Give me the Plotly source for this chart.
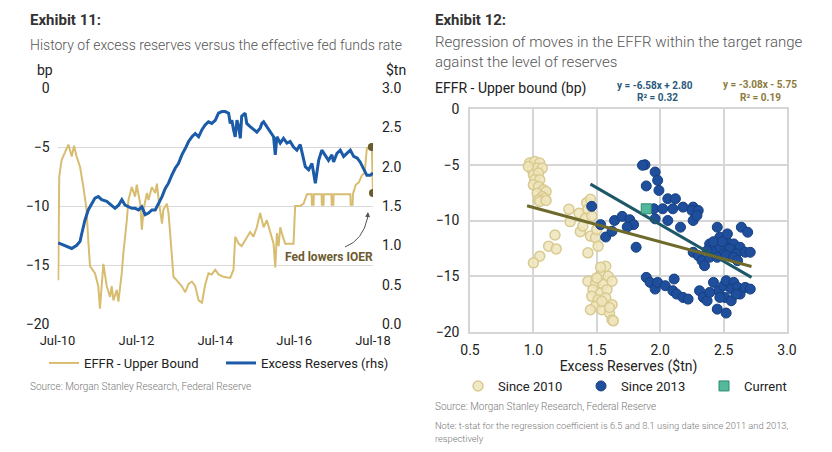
import plotly.graph_objects as go

# ---------------- Exhibit 11 data ----------------
effr_dates = ["2010-07-08","2010-07-17","2010-08-08","2010-09-09","2010-10-10","2010-11-10","2010-12-01","2010-12-25",
 "2011-01-26","2011-02-26","2011-03-27","2011-04-12","2011-04-28","2011-06-13","2011-07-14","2011-07-29","2011-08-14",
 "2011-08-30","2011-09-30","2011-10-31","2011-11-15","2011-12-01","2012-01-01","2012-01-16","2012-02-16","2012-03-02",
 "2012-04-03","2012-04-18","2012-05-19","2012-06-19","2012-07-04","2012-08-05","2012-08-20","2012-09-05","2012-10-06",
 "2012-10-21","2012-11-21","2012-12-22","2013-01-07","2013-01-23","2013-02-23","2013-03-08","2013-04-09","2013-04-24",
 "2013-05-09","2013-05-24","2013-06-09","2013-07-10","2013-08-26","2013-09-26","2013-10-27","2013-11-27","2013-12-28",
 "2014-01-28","2014-02-28","2014-03-29","2014-04-29","2014-05-30","2014-07-01","2014-07-31","2014-09-15","2014-11-17",
 "2014-12-17","2015-01-02","2015-02-03","2015-03-03","2015-04-19","2015-05-20","2015-06-20","2015-07-21","2015-08-21",
 "2015-09-22","2015-10-22","2015-11-22","2015-12-23","2016-01-08","2016-01-23","2016-02-08","2016-02-23","2016-03-18",
 "2016-04-09","2016-06-25","2016-07-10","2016-08-26","2016-09-26","2016-10-27",
 "2016-12-10","2016-12-12","2016-12-28","2016-12-30",
 "2017-03-12","2017-03-14","2017-03-30","2017-04-01",
 "2017-06-11","2017-06-13","2017-06-29","2017-07-01",
 "2017-12-03","2017-12-06","2017-12-24","2017-12-27",
 "2018-01-22","2018-02-20","2018-03-20","2018-04-15","2018-05-05","2018-06-13","2018-06-20","2018-07-01"]
effr_vals = [-16.3,-7.5,-6.1,-5.5,-4.8,-5.8,-4.9,-5.8,
 -6.7,-8.4,-10.3,-12.9,-15.1,-15.7,-16.8,-18.7,-16.3,
 -14.9,-16.8,-17.7,-16.8,-18.0,-17.1,-18.1,-15.7,-14.0,
 -11.2,-9.5,-8.4,-9.2,-8.2,-9.8,-12.0,-10.3,-8.9,
 -9.5,-8.4,-8.9,-8.1,-9.5,-11.5,-10.3,-9.8,-10.6,
 -12.3,-14.6,-16.0,-16.3,-16.8,-17.3,-16.6,-16.4,-16.8,
 -18.0,-18.2,-16.7,-15.7,-15.8,-15.4,-15.8,-16.0,-16.1,
 -15.4,-12.6,-13.2,-13.4,-12.6,-12.2,-12.6,-11.8,-10.6,
 -11.8,-11.2,-12.3,-13.2,-15.2,-12.3,-13.4,-11.8,-12.6,
 -13.2,-13.2,-10.0,-10.0,-9.8,-9.0,
 -9.0,-9.9,-9.9,-9.0,
 -9.0,-9.9,-9.9,-9.0,
 -9.0,-9.9,-9.9,-9.0,
 -9.0,-9.9,-9.9,-9.0,
 -8.2,-8.0,-7.4,-7.2,-5.1,-5.0,-5.0,-8.9]

res_dates = ["2010-07-08","2010-08-24","2010-09-24","2010-11-10","2010-12-26","2011-01-26","2011-02-11","2011-03-12",
 "2011-04-12","2011-05-13","2011-06-13","2011-07-14","2011-08-14","2011-09-30","2011-11-15","2011-12-16","2012-01-17",
 "2012-02-17","2012-03-18","2012-04-18","2012-05-19","2012-06-19","2012-07-20","2012-08-20","2012-09-20","2012-10-21",
 "2012-11-21","2012-12-22","2013-01-23","2013-02-23","2013-03-24","2013-04-24","2013-05-24","2013-06-25","2013-07-25",
 "2013-08-26","2013-09-26","2013-10-27","2013-11-27","2013-12-28","2014-01-28","2014-02-28","2014-03-29","2014-04-29",
 "2014-05-30","2014-07-01","2014-07-31","2014-09-01","2014-10-01","2014-11-02","2014-11-17","2014-12-02","2014-12-17",
 "2015-01-02","2015-01-18","2015-02-03","2015-02-18","2015-03-03","2015-04-04","2015-04-19","2015-05-20","2015-06-20",
 "2015-07-21","2015-08-21","2015-09-06","2015-09-22","2015-10-22","2015-11-22","2015-12-23","2016-01-08","2016-01-23",
 "2016-02-23","2016-03-24","2016-04-25","2016-05-25","2016-06-25","2016-07-26","2016-08-26","2016-09-11","2016-10-12",
 "2016-11-12","2016-12-13","2017-01-13","2017-02-13","2017-03-14","2017-04-14","2017-05-15","2017-06-15","2017-07-01",
 "2017-08-01","2017-09-01","2017-10-02","2017-11-02","2017-12-03","2018-01-03","2018-02-04","2018-03-04","2018-04-05",
 "2018-05-05","2018-06-06","2018-07-01"]
res_vals = [1.03,1.00,0.98,0.96,1.00,1.05,1.15,1.32,
 1.45,1.53,1.60,1.62,1.58,1.56,1.51,1.47,1.51,
 1.58,1.51,1.49,1.47,1.47,1.45,1.49,1.39,1.41,
 1.45,1.45,1.53,1.62,1.72,1.79,1.89,1.98,2.04,
 2.15,2.23,2.32,2.38,2.42,2.38,2.47,2.53,2.57,
 2.55,2.59,2.68,2.70,2.70,2.68,2.55,2.59,2.47,
 2.38,2.59,2.51,2.36,2.64,2.68,2.55,2.51,2.47,
 2.44,2.49,2.55,2.57,2.51,2.44,2.38,2.15,2.38,
 2.30,2.36,2.30,2.32,2.25,2.21,2.28,2.17,2.00,
 1.96,2.04,1.79,2.08,2.21,2.15,2.08,2.15,2.06,
 2.17,2.21,2.13,2.17,2.21,2.13,2.11,2.06,1.96,
 1.89,1.89,1.92]

ioer_dates = ["2018-06-20", "2018-07-01"]
ioer_vals = [-5.0, -8.9]

# ---------------- Exhibit 12 data ----------------
s2010_x = [0.97,1.01,1.05,0.99,1.03,1.07,0.96,1.00,1.04,1.01,1.05,1.00,1.04,1.08,1.10,1.03,1.07,1.09,1.04,1.05,1.10,
 1.17,1.12,1.18,1.05,1.00,1.29,1.36,1.37,1.41,1.42,1.45,1.43,1.46,1.45,1.49,1.43,1.50,1.51,1.39,1.28,
 1.57,1.53,1.59,1.43,1.49,1.55,1.47,1.53,1.58,1.46,1.51,1.57,1.62,1.49,1.54,1.45,1.60,1.62,1.54,1.50,1.62,1.53,1.60,1.63]
s2010_y = [-4.85,-4.7,-4.85,-5.45,-5.3,-5.3,-5.15,-5.9,-5.75,-6.35,-6.35,-6.8,-6.95,-7.25,-7.4,-7.55,-7.85,-8.0,-8.15,-8.3,-8.2,
 -11.3,-12.3,-12.55,-13.2,-13.8,-10.1,-9.35,-11.0,-9.8,-8.4,-8.1,-9.0,-9.6,-11.4,-11.55,-12.9,-10.8,-12.3,-10.5,-9.0,
 -14.1,-14.85,-15.0,-15.45,-15.6,-15.75,-16.2,-16.5,-16.2,-16.8,-17.1,-16.95,-17.55,-17.7,-18.0,-18.0,-18.3,-18.9,-17.25,-15.15,-15.45,-14.2,-17.8,-19.0]

s2013_x = [1.46,1.53,1.57,1.64,1.70,1.76,1.79,1.74,1.62,1.81,1.88,1.86,1.89,1.96,1.98,1.99,2.06,2.12,2.18,2.26,
 1.95,2.02,2.10,2.25,2.30,2.06,1.96,2.16,2.26,2.29,
 2.45,2.64,2.69,2.47,2.52,2.58,2.39,2.42,2.37,2.47,2.55,2.63,2.67,2.60,2.50,2.26,2.30,2.33,2.35,2.39,2.45,2.52,2.58,2.61,2.71,2.42,2.49,2.53,
 1.89,1.92,1.96,1.98,2.04,2.10,2.13,2.18,2.22,2.11,2.31,2.34,2.37,2.42,2.46,2.50,2.52,2.58,2.56,2.61,2.63,2.67,2.71,2.51,2.56,2.45,2.52,2.60,2.39,2.47]
s2013_y = [-8.73,-10.37,-11.48,-10.0,-9.63,-9.93,-10.37,-10.58,-10.97,-12.4,-5.0,-5.05,-6.9,-5.65,-6.4,-7.3,-8.05,-8.05,-8.8,-8.8,
 -8.95,-8.95,-8.95,-9.1,-9.1,-10.0,-9.85,-10.6,-10.0,-9.55,
 -10.6,-10.6,-11.05,-11.5,-11.8,-12.1,-12.1,-12.55,-12.7,-12.4,-12.55,-12.4,-12.85,-13.0,-13.0,-12.85,-13.15,-13.6,-14.05,-13.3,-13.3,-13.15,-13.3,-13.6,-12.85,-11.9,-11.9,-11.2,
 -15.1,-15.55,-16.15,-15.55,-15.85,-16.3,-16.6,-16.9,-17.05,-15.25,-16.3,-16.9,-17.2,-15.55,-16.3,-15.85,-15.4,-15.55,-16.15,-16.0,-16.6,-16.0,-16.15,-16.9,-17.2,-17.95,-18.3,-16.6,-16.45,-16.9]

current_x = [1.89]
current_y = [-8.95]

fit_names = ["Since 2013 fit", "Since 2010 fit"]
fit_slope = [-6.58, -3.08]
fit_intercept = [2.80, -5.75]
fit_xrange = [[1.45, 2.72], [0.95, 2.72]]
fit_colors = ["#1d5868", "#6e6a2c"]

W, H = 832, 452
OFF = 8  # page body margin
def px(x): return (x - OFF) / W
def py(y): return 1 - (y - OFF) / H

FONT = "Roboto, sans-serif"
GOLD = "#d8bd70"
BLUE = "#1b5ba8"

fig = go.Figure()

fig.add_trace(go.Scatter(x=effr_dates, y=effr_vals, mode="lines", name="EFFR - Upper Bound",
                         line=dict(color=GOLD, width=2), xaxis="x", yaxis="y", legend="legend"))
fig.add_trace(go.Scatter(x=res_dates, y=res_vals, mode="lines", name="Excess Reserves (rhs)",
                         line=dict(color=BLUE, width=3), xaxis="x", yaxis="y2", legend="legend"))
fig.add_trace(go.Scatter(x=ioer_dates, y=ioer_vals, mode="markers", showlegend=False,
                         marker=dict(color="#6b5a2e", size=8), xaxis="x", yaxis="y"))

fig.add_trace(go.Scatter(x=s2010_x, y=s2010_y, mode="markers", name="Since 2010",
                         marker=dict(color="rgba(238,229,188,0.85)", size=10, line=dict(color="#d9ca90", width=1.5)),
                         xaxis="x3", yaxis="y3", legend="legend2"))
fig.add_trace(go.Scatter(x=s2013_x, y=s2013_y, mode="markers", name="Since 2013",
                         marker=dict(color="#1f4f9c", size=10, line=dict(color="#173f80", width=1)),
                         xaxis="x3", yaxis="y3", legend="legend2"))
for i in range(len(fit_names)):
    xs = fit_xrange[i]
    ys = [fit_slope[i] * v + fit_intercept[i] for v in xs]
    fig.add_trace(go.Scatter(x=xs, y=ys, mode="lines", showlegend=False, name=fit_names[i],
                             line=dict(color=fit_colors[i], width=3), xaxis="x3", yaxis="y3"))
fig.add_trace(go.Scatter(x=current_x, y=current_y, mode="markers", name="Current",
                         marker=dict(color="#52b99a", size=10, symbol="square", line=dict(color="#2f8a70", width=1)),
                         xaxis="x3", yaxis="y3", legend="legend2"))

tickfont = dict(family=FONT, size=14, color="#222")
fig.update_layout(
    width=W, height=H, margin=dict(l=0, r=0, t=0, b=0, autoexpand=False),
    paper_bgcolor="white", plot_bgcolor="white",
    font=dict(family=FONT, size=13, color="#222"),
    xaxis=dict(domain=[px(57.5), px(373)], type="date", range=["2010-07-01", "2018-07-01"],
               tickvals=["2010-07-01", "2012-07-01", "2014-07-01", "2016-07-01", "2018-07-01"],
               tickformat="%b-%y", showgrid=False, zeroline=False, showline=False, ticks="",
               tickfont=dict(family=FONT, size=13, color="#222"), ticklabelstandoff=7, anchor="y"),
    yaxis=dict(domain=[py(324), py(88)], range=[-20, 0], tickvals=[0, -5, -10, -15, -20],
               showgrid=True, gridcolor="#d9d9d9", gridwidth=1, zeroline=False, ticks="",
               tickfont=tickfont, ticklabelstandoff=7, anchor="x"),
    yaxis2=dict(domain=[py(324), py(88)], range=[0, 3], dtick=0.5, tickformat=".1f", overlaying="y",
                side="right", showgrid=False, zeroline=False, ticks="", tickfont=tickfont,
                ticklabelstandoff=8, anchor="x"),
    xaxis3=dict(domain=[px(470), px(787)], range=[0.5, 3.0], dtick=0.5, tickformat=".1f",
                showgrid=True, gridcolor="#d6d6d6", gridwidth=1.5, zeroline=False, ticks="",
                showline=True, linecolor="#d6d6d6", linewidth=1.5, mirror=True,
                tickfont=tickfont, ticklabelstandoff=4, anchor="y3",
                title=dict(text="Excess Reserves ($tn)", font=dict(family=FONT, size=14, color="#222"), standoff=0)),
    yaxis3=dict(domain=[py(332), py(109)], range=[-20, 0], dtick=5,
                showgrid=True, gridcolor="#d6d6d6", gridwidth=1.5, zeroline=False, ticks="",
                showline=True, linecolor="#d6d6d6", linewidth=1.5, mirror=True,
                tickfont=tickfont, ticklabelstandoff=6, anchor="x3"),
    legend=dict(orientation="h", x=px(44), y=py(363), xanchor="left", yanchor="middle",
                font=dict(family=FONT, size=13, color="#222"), entrywidth=132, entrywidthmode="pixels",
                bgcolor="rgba(0,0,0,0)", borderwidth=0),
    legend2=dict(orientation="h", x=px(458), y=py(386), xanchor="left", yanchor="middle",
                 font=dict(family=FONT, size=13, color="#222"), entrywidth=78, entrywidthmode="pixels",
                 bgcolor="rgba(0,0,0,0)", borderwidth=0, itemwidth=30),
)

ann = [
    dict(text="<b>Exhibit 11:</b>", x=px(28), y=py(20), font=dict(family="Roboto", size=15, color="#333")),
    dict(text="History of excess reserves versus the effective fed funds rate", x=px(28), y=py(45),
         font=dict(family="Roboto", size=14, color="#555", weight=300)),
    dict(text="bp", x=px(35), y=py(70), font=dict(family=FONT, size=14, color="#222")),
    dict(text="$tn", x=px(384), y=py(70), font=dict(family=FONT, size=14, color="#222")),
    dict(text="Source: Morgan Stanley Research, Federal Reserve", x=px(28), y=py(386),
         font=dict(family="Roboto", size=10, color="#777", weight=300)),
    dict(text="<b>Fed lowers IOER</b>", x=px(283), y=py(257), font=dict(family=FONT, size=12, color="#6b5a2e")),
    dict(text="<b>Exhibit 12:</b>", x=px(433), y=py(20), font=dict(family="Roboto", size=15, color="#333")),
    dict(text="Regression of moves in the EFFR within the target range", x=px(433), y=py(42),
         font=dict(family="Roboto", size=15, color="#555", weight=300)),
    dict(text="against the level of reserves", x=px(433), y=py(62),
         font=dict(family="Roboto", size=15, color="#555", weight=300)),
    dict(text="EFFR - Upper bound (bp)", x=px(433), y=py(88), font=dict(family=FONT, size=14, color="#222")),
    dict(text="<b>y = -6.58x + 2.80</b>", x=px(655), y=py(85), xanchor="center",
         font=dict(family=FONT, size=10, color="#2a5a78")),
    dict(text="<b>R² = 0.32</b>", x=px(657), y=py(98), xanchor="center",
         font=dict(family=FONT, size=10, color="#2a5a78")),
    dict(text="<b>y = -3.08x - 5.75</b>", x=px(760), y=py(84), xanchor="center",
         font=dict(family=FONT, size=10, color="#8c7a3c")),
    dict(text="<b>R² = 0.19</b>", x=px(760), y=py(98), xanchor="center",
         font=dict(family=FONT, size=10, color="#8c7a3c")),
    dict(text="Source: Morgan Stanley Research, Federal Reserve", x=px(433), y=py(406),
         font=dict(family="Roboto", size=10, color="#777", weight=300)),
    dict(text="Note: t-stat for the regression coefficient is 6.5 and 8.1 using date since 2011 and 2013,", x=px(433), y=py(425),
         font=dict(family="Roboto", size=9.3, color="#777", weight=300)),
    dict(text="respectively", x=px(433), y=py(438), font=dict(family="Roboto", size=9.3, color="#777", weight=300)),
]
for a in ann:
    a.setdefault("xanchor", "left")
    a.update(xref="paper", yref="paper", yanchor="middle", showarrow=False)
    fig.add_annotation(**a)

# curved arrow for "Fed lowers IOER"
fig.add_shape(type="path", xref="paper", yref="paper",
              path=f"M {px(345)},{py(247)} Q {px(363)},{py(240)} {px(367.5)},{py(218)}",
              line=dict(color="#555", width=1))
fig.add_annotation(x=px(368), y=py(212), xref="paper", yref="paper", ax=-0.6, ay=8,
                   axref="pixel", ayref="pixel", text="", showarrow=True, arrowhead=2, arrowsize=1,
                   arrowwidth=1, arrowcolor="#555")

fig.write_html("out.html")
